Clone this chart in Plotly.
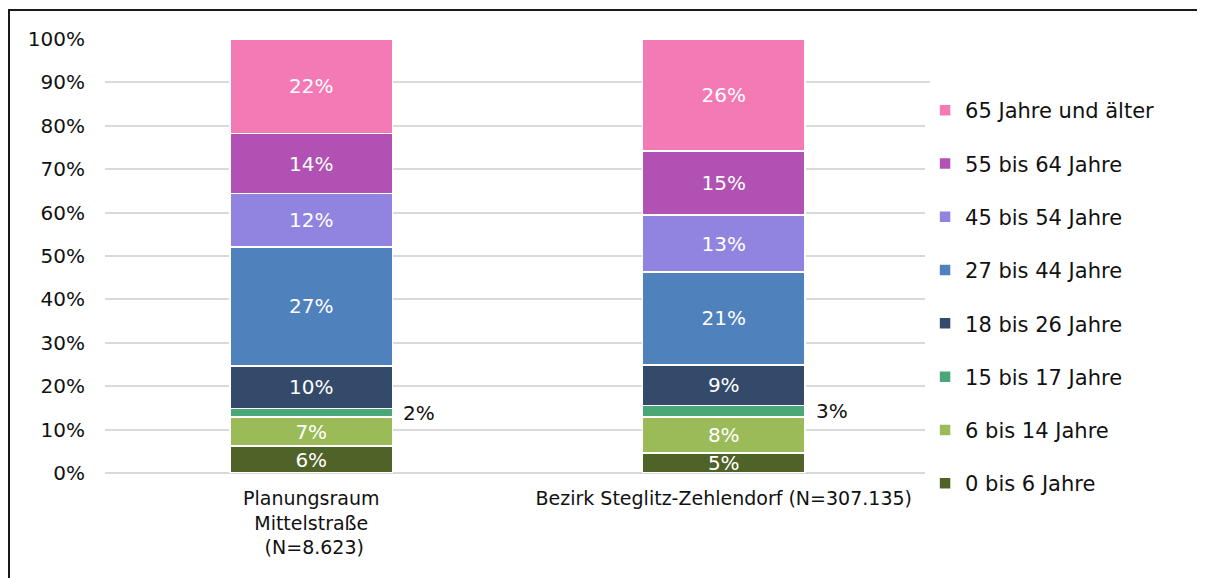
import plotly.graph_objects as go

categories = ["Planungsraum<br>Mittelstraße<br> (N=8.623)", "Bezirk Steglitz-Zehlendorf (N=307.135)"]
series_names = ["0 bis 6 Jahre", "6 bis 14 Jahre", "15 bis 17 Jahre", "18 bis 26 Jahre",
                "27 bis 44 Jahre", "45 bis 54 Jahre", "55 bis 64 Jahre", "65 Jahre und älter"]
values_planungsraum = [6.2, 6.7, 2.0, 9.8, 27.4, 12.3, 13.8, 21.8]
values_bezirk = [4.6, 8.3, 2.6, 9.4, 21.4, 13.1, 14.8, 25.8]
colors = ["#4F6228", "#9BBB59", "#4BA678", "#344A6A", "#4F81BD", "#9184E0", "#B051B3", "#F47AB6"]
y_ticks = [0, 10, 20, 30, 40, 50, 60, 70, 80, 90, 100]
outside_label_series = "15 bis 17 Jahre"

FONT = "'DejaVu Sans', sans-serif"

# page body has an 8px margin; figure coords = screen coords - 8
L, T, PR, PB = 97, 31, 922, 465
W, H = 1205, 578

fig = go.Figure()
n = len(series_names)
for i, name in enumerate(series_names):
    vals = [values_planungsraum[i], values_bezirk[i]]
    outside = name == outside_label_series
    fig.add_trace(go.Bar(
        x=categories, y=vals, name=name,
        marker=dict(color=colors[i], line=dict(color="white", width=1.5)),
        text=[f"{round(v)}%" for v in vals],
        textposition="none" if outside else "inside",
        insidetextanchor="middle",
        textfont=dict(color="white", size=20, family=FONT),
        constraintext="none",
        legendgroup=name,
        legendrank=n - i,
        hoverinfo="skip",
    ))
    if outside:
        for ci, cat in enumerate(categories):
            base = sum(([values_planungsraum, values_bezirk][ci])[:i])
            fig.add_annotation(
                x=cat, y=base + vals[ci] / 2, text=f"{round(vals[ci])}%",
                showarrow=False, xanchor="left", yanchor="middle", xshift=90,
                font=dict(color="#111111", size=20, family=FONT),
            )

pw, ph = PR - L, PB - T
fig.update_layout(
    barmode="stack",
    bargap=0.607,
    width=W, height=H,
    margin=dict(l=L, r=W - PR, t=T, b=H - PB),
    plot_bgcolor="white", paper_bgcolor="white",
    font=dict(family=FONT, color="#111111"),
    legend=dict(
        traceorder="grouped", x=0.994, xanchor="left",
        y=(PB - 82) / ph, yanchor="top",
        font=dict(size=21, family=FONT, color="#111111"),
        tracegroupgap=23, itemwidth=30,
    ),
    showlegend=True,
)
fig.update_yaxes(
    range=[0, 100], tickvals=y_ticks, ticktext=[f"{t}%" for t in y_ticks],
    showgrid=True, gridcolor="#D9D9D9", gridwidth=2,
    zeroline=True, zerolinecolor="#D9D9D9", zerolinewidth=2,
    tickfont=dict(size=20, family=FONT, color="#111111"),
    ticklabelstandoff=19, fixedrange=True,
)
fig.update_xaxes(
    tickfont=dict(size=19, family=FONT, color="#111111"),
    ticklabelstandoff=12,
    showline=False, fixedrange=True,
)
# outer chart frame (cut off at right and bottom)
fig.add_shape(type="rect", xref="paper", yref="paper",
              x0=(1 - L) / pw, x1=1.5, y0=-0.5, y1=(PB - 2) / ph,
              line=dict(color="#1a1a1a", width=2), fillcolor="rgba(0,0,0,0)", layer="above")

fig.write_html("out.html")
